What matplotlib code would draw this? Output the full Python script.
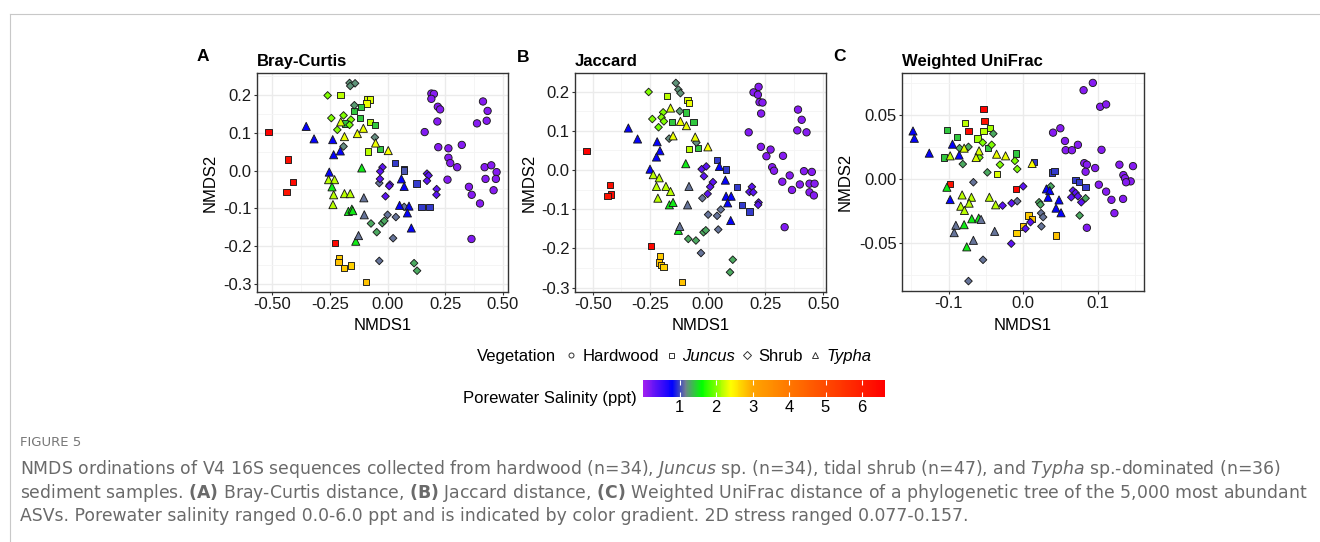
import numpy as np
import matplotlib
matplotlib.use("Agg")
import matplotlib.pyplot as plt
from matplotlib.colors import LinearSegmentedColormap, Normalize
from matplotlib.cm import ScalarMappable
from matplotlib.lines import Line2D
from matplotlib.ticker import MultipleLocator

# ---------------------------------------------------------------- data
veg_names = ["Hardwood", "Juncus", "Shrub", "Typha"]
veg_codes = ["H", "J", "S", "T"]

# Porewater salinity colour scale (ppt)
sal_breaks = [0.0, 0.8, 1.15, 1.6, 2.4, 3.0, 6.63]
sal_colours = ["#A020F0", "#0000FF", "#708090", "#00FF00", "#FFFF00", "#FFA500", "#FF0000"]
sal_ticks = [1, 2, 3, 4, 5, 6]

# --- Bray-Curtis NMDS
bc_x = [0.190, 0.201, 0.190, 0.218, 0.228, 0.216, 0.161, 0.220, 0.264, 0.322, 0.264, 0.272, 0.302, 0.260,
        0.414, 0.434, 0.430, 0.388, 0.421, 0.450, 0.473, 0.425, 0.470, 0.353, 0.365, 0.401, 0.460, 0.364,
        -0.517, -0.431, -0.411, -0.438, -0.227, -0.211, -0.213, -0.190, -0.159, -0.093, -0.205, -0.088,
        -0.076, -0.091, -0.145, -0.115, -0.119, -0.185, -0.076, -0.055, -0.033, -0.086, 0.032, 0.072,
        0.070, 0.126, 0.147, 0.182,
        -0.165, -0.141, -0.162, -0.144, -0.260, -0.244, -0.191, -0.159, -0.218, -0.165, -0.191, -0.055,
        -0.036, 0.072, 0.024, -0.036, 0.000, 0.036, -0.072, -0.047, -0.023, -0.014, 0.115, 0.128,
        -0.022, -0.032, -0.033, 0.010, 0.007, -0.009, 0.171, 0.178, 0.171, 0.213, 0.212,
        -0.353, -0.319, -0.238, -0.234, -0.205, -0.253, 0.060, 0.072, 0.052, 0.093, 0.086, 0.103,
        -0.203, -0.105, -0.131, -0.187, -0.052, 0.003, -0.256, -0.230, -0.234, -0.187, -0.162, -0.237,
        -0.112, -0.241, -0.170, -0.155, -0.151, -0.138, -0.103, -0.101, -0.126]
bc_y = [0.204, 0.203, 0.190, 0.169, 0.162, 0.130, 0.102, 0.062, 0.059, 0.068, 0.034, 0.020, 0.009, -0.024,
        0.183, 0.158, 0.132, 0.125, 0.009, 0.014, -0.004, -0.022, -0.022, -0.043, -0.064, -0.087, -0.052, -0.181,
        0.103, 0.029, -0.030, -0.057, -0.191, -0.233, -0.242, -0.257, -0.251, -0.295, 0.200, 0.188,
        0.188, 0.178, 0.158, 0.168, 0.140, 0.125, 0.128, 0.120, 0.058, 0.051, 0.020, 0.005,
        0.000, -0.034, -0.096, -0.096,
        0.232, 0.231, 0.224, 0.173, 0.199, 0.139, 0.146, 0.135, 0.108, 0.121, 0.064, 0.088,
        -0.033, -0.096, -0.179, -0.239, -0.117, -0.123, -0.140, -0.163, -0.139, -0.133, -0.245, -0.265,
        0.009, -0.002, -0.022, -0.037, -0.041, -0.068, -0.008, -0.013, -0.027, -0.049, -0.064,
        0.117, 0.084, 0.082, 0.042, 0.052, -0.004, -0.022, -0.042, -0.092, -0.094, -0.112, -0.152,
        0.129, 0.112, 0.098, 0.090, 0.073, 0.053, -0.024, -0.024, -0.064, -0.061, -0.061, -0.090,
        0.007, -0.043, -0.108, -0.102, -0.106, -0.187, -0.072, -0.117, -0.172]
bc_veg = ["H"] * 28 + ["J"] * 28 + ["S"] * 35 + ["T"] * 33
bc_sal = [0.15, 0.15, 0.15, 0.15, 0.15, 0.15, 0.17, 0.15, 0.15, 0.15, 0.15, 0.15, 0.15, 0.15,
          0.15, 0.15, 0.15, 0.15, 0.15, 0.15, 0.15, 0.15, 0.15, 0.15, 0.15, 0.15, 0.15, 0.17,
          6.6, 6.3, 6.4, 6.2, 6.5, 2.75, 2.8, 2.75, 2.7, 2.8, 2.2, 2.3,
          2.3, 2.35, 1.4, 1.4, 1.4, 1.4, 2.2, 1.4, 1.4, 2.2, 0.98, 0.98,
          1.05, 0.98, 0.98, 0.98,
          1.22, 1.22, 1.22, 1.25, 2.0, 2.0, 2.0, 2.0, 2.0, 1.95, 1.2, 1.2,
          1.12, 1.12, 1.12, 1.12, 1.12, 1.12, 1.3, 1.3, 1.3, 1.3, 1.3, 1.3,
          0.35, 0.35, 0.35, 0.35, 0.35, 0.35, 0.35, 0.35, 0.35, 0.35, 0.35,
          0.8, 0.8, 0.8, 0.8, 0.8, 0.8, 0.8, 0.8, 0.8, 0.8, 0.8, 0.8,
          2.3, 2.35, 2.35, 2.35, 2.35, 2.4, 2.2, 2.2, 2.2, 2.2, 2.2, 2.2,
          1.55, 1.55, 1.55, 1.55, 1.55, 1.55, 1.12, 1.12, 1.12]

# --- Jaccard NMDS
jac_x = [0.220, 0.198, 0.217, 0.224, 0.237, 0.231, 0.177, 0.230, 0.272, 0.254, 0.326, 0.279, 0.287, 0.391,
         0.407, 0.388, 0.428, 0.417, 0.451, 0.355, 0.323, 0.399, 0.441, 0.463, 0.365, 0.441, 0.460, 0.333,
         -0.527, -0.424, -0.420, -0.435, -0.246, -0.208, -0.211, -0.203, -0.193, -0.111, -0.177, -0.089,
         -0.083, -0.096, -0.155, -0.062, -0.043, -0.082, 0.040, 0.079, 0.126, 0.148, 0.180,
         -0.139, -0.128, -0.119, -0.122, -0.257, -0.194, -0.201, -0.191, -0.241, -0.214, -0.168, -0.050,
         -0.024, 0.001, 0.040, 0.056, 0.045, -0.030, -0.085, -0.052, -0.019, -0.009, 0.108, 0.096,
         -0.027, -0.007, -0.017, 0.022, 0.010, -0.001, 0.191, 0.180, 0.197, 0.220, 0.218,
         -0.345, -0.305, -0.220, -0.208, -0.223, -0.251, 0.050, 0.076, 0.079, 0.101, 0.086, 0.099,
         -0.162, -0.119, -0.093, -0.151, -0.055, 0.000, -0.237, -0.211, -0.223, -0.182, -0.162, -0.217,
         -0.096, -0.167, -0.151, -0.128, -0.082, -0.088, -0.122]
jac_y = [0.212, 0.198, 0.192, 0.173, 0.172, 0.144, 0.096, 0.059, 0.052, 0.035, 0.036, 0.007, -0.002, 0.154,
         0.128, 0.101, 0.096, -0.003, -0.005, -0.014, -0.030, -0.037, -0.035, -0.035, -0.051, -0.057, -0.065, -0.146,
         0.048, -0.038, -0.063, -0.067, -0.194, -0.219, -0.236, -0.243, -0.247, -0.286, 0.188, 0.178,
         0.171, 0.147, 0.122, 0.122, 0.056, 0.054, 0.025, 0.001, -0.044, -0.090, -0.106,
         0.222, 0.205, 0.196, 0.150, 0.199, 0.147, 0.134, 0.124, 0.130, 0.109, 0.080, 0.070,
         -0.072, -0.114, -0.117, -0.101, -0.152, -0.212, -0.176, -0.180, -0.159, -0.154, -0.229, -0.261,
         0.002, 0.009, -0.016, -0.031, -0.043, -0.061, -0.043, -0.056, -0.057, -0.083, -0.089,
         0.107, 0.079, 0.072, 0.049, 0.033, 0.002, 0.009, -0.026, -0.067, -0.067, -0.084, -0.129,
         0.158, 0.124, 0.113, 0.087, 0.084, 0.059, -0.012, -0.020, -0.042, -0.042, -0.055, -0.072,
         0.016, -0.089, -0.083, -0.154, -0.042, -0.089, -0.144]
jac_veg = ["H"] * 28 + ["J"] * 23 + ["S"] * 35 + ["T"] * 31
jac_sal = [0.15, 0.15, 0.15, 0.15, 0.15, 0.15, 0.17, 0.15, 0.15, 0.15, 0.15, 0.15, 0.15, 0.15,
           0.15, 0.15, 0.15, 0.15, 0.15, 0.15, 0.15, 0.15, 0.15, 0.15, 0.15, 0.15, 0.15, 0.17,
           6.6, 6.3, 6.4, 6.2, 6.5, 2.75, 2.8, 2.75, 2.7, 2.8, 2.2, 2.3,
           2.35, 1.4, 1.4, 1.4, 1.4, 2.2, 0.98, 0.98, 0.98, 0.98, 0.98,
           1.22, 1.22, 1.22, 1.25, 2.0, 2.0, 2.0, 2.0, 2.0, 1.95, 1.2, 1.2,
           1.12, 1.12, 1.12, 1.12, 1.12, 1.12, 1.3, 1.3, 1.3, 1.3, 1.3, 1.3,
           0.35, 0.35, 0.35, 0.35, 0.35, 0.35, 0.35, 0.35, 0.35, 0.35, 0.35,
           0.8, 0.8, 0.8, 0.8, 0.8, 0.8, 0.8, 0.8, 0.8, 0.8, 0.8, 0.8,
           2.3, 2.35, 2.35, 2.35, 2.35, 2.4, 2.2, 2.2, 2.2, 2.2, 2.2, 2.2,
           1.55, 1.55, 1.55, 1.55, 1.12, 1.12, 1.12]

# --- Weighted UniFrac NMDS
wu_x = [0.0933, 0.0809, 0.1031, 0.1111, 0.0400, 0.0498, 0.0560, 0.0569, 0.0653, 0.0733, 0.1049, 0.0818,
        0.0853, 0.0836, 0.0964, 0.1289, 0.1471, 0.1342, 0.1364, 0.1440, 0.1378, 0.1013, 0.1111, 0.1182,
        0.1338, 0.1222, 0.0853,
        0.0147, 0.0387, 0.0418, 0.0702, 0.0747, 0.0836, -0.0533, -0.0520, -0.0733, -0.0978, -0.0098,
        -0.0778, -0.0533, -0.0444, -0.0613, -0.0351, -0.1022, -0.0889, -0.1058, -0.0471, -0.0098,
        0.0071, 0.0120, 0.0000, -0.0089, 0.0440,
        -0.0400, -0.0733, -0.0853, -0.0809, -0.0480, 0.0213, 0.0231, 0.0369, 0.0756, 0.0836,
        -0.0542, -0.0422, -0.0587, -0.0111, -0.0080, -0.0311,
        -0.0667, -0.0080, 0.0240, 0.0267, 0.0244, -0.0538, -0.0733,
        0.0000, -0.0276, -0.0156, 0.0098, 0.0031, -0.0160, 0.0667, 0.0702, 0.0644, 0.0733, 0.0778,
        -0.1476, -0.1458, -0.1258, -0.0947, -0.0858, -0.0978, 0.0311, 0.0356, 0.0333, 0.0480, 0.0440, 0.0507,
        -0.0978, -0.0791, -0.0591, -0.0631, -0.0356, -0.0236, 0.0120, -0.0818, -0.0693, -0.0724, -0.0836,
        -0.0787, -0.0453, -0.0369,
        -0.1022, -0.0791, -0.0689, -0.0596, -0.0756,
        -0.0902, -0.0924, -0.0382, -0.0667, -0.0564]
wu_y = [0.0752, 0.0695, 0.0566, 0.0584, 0.0364, 0.0398, 0.0299, 0.0227, 0.0227, 0.0269, 0.0230, 0.0126,
        0.0114, 0.0059, 0.0088, 0.0114, 0.0103, 0.0033, 0.0008, -0.0016, -0.0023, -0.0042, -0.0096, -0.0160,
        -0.0153, -0.0264, -0.0378,
        0.0137, 0.0054, 0.0067, -0.0003, -0.0023, -0.0062, 0.0550, 0.0454, 0.0379, -0.0036, -0.0075,
        0.0437, 0.0379, 0.0400, 0.0318, 0.0041, 0.0385, 0.0330, 0.0170, 0.0245, 0.0201,
        -0.0282, -0.0308, -0.0367, -0.0419, -0.0437,
        0.0356, 0.0253, 0.0243, 0.0119, 0.0054, -0.0179, -0.0197, -0.0055, -0.0282, -0.0148,
        0.0286, 0.0269, 0.0170, 0.0144, 0.0080, 0.0114,
        -0.0023, -0.0171, -0.0264, -0.0295, -0.0367, -0.0628, -0.0794,
        -0.0055, -0.0205, -0.0186, -0.0334, -0.0385, -0.0502, -0.0088, -0.0106, -0.0140, -0.0132, -0.0179,
        0.0377, 0.0320, 0.0204, 0.0274, 0.0189, -0.0158, -0.0075, -0.0088, -0.0140, -0.0161, -0.0225, -0.0261,
        0.0183, 0.0243, 0.0222, 0.0170, 0.0196, 0.0183, 0.0124, -0.0122, -0.0140, -0.0186, -0.0210,
        -0.0243, -0.0140, -0.0199,
        -0.0062, -0.0354, -0.0308, -0.0303, -0.0527,
        -0.0359, -0.0416, -0.0406, -0.0476, -0.0313]
wu_veg = ["H"] * 27 + ["J"] * 26 + ["S"] * 34 + ["T"] * 36
wu_sal = [0.15, 0.15, 0.15, 0.15, 0.15, 0.15, 0.15, 0.15, 0.15, 0.15, 0.15, 0.15,
          0.15, 0.15, 0.15, 0.15, 0.15, 0.15, 0.15, 0.15, 0.15, 0.15, 0.15, 0.15,
          0.15, 0.15, 0.17,
          0.98, 0.98, 0.98, 0.98, 0.98, 0.98, 6.6, 6.3, 6.4, 6.2, 6.5,
          2.2, 2.2, 2.1, 2.1, 2.3, 1.4, 1.4, 1.4, 1.4, 1.4,
          2.75, 2.8, 2.75, 2.7, 2.8,
          1.3, 1.3, 1.3, 1.3, 1.3, 1.3, 1.3, 1.3, 1.3, 1.3,
          2.0, 2.0, 2.0, 2.0, 2.0, 2.0,
          1.12, 1.12, 1.12, 1.12, 1.12, 1.12, 1.12,
          0.35, 0.35, 0.35, 0.35, 0.35, 0.35, 0.35, 0.35, 0.35, 0.35, 0.35,
          0.8, 0.8, 0.8, 0.8, 0.8, 0.8, 0.8, 0.8, 0.8, 0.8, 0.8, 0.8,
          2.2, 2.3, 2.3, 2.3, 2.35, 2.35, 2.4, 2.2, 2.2, 2.2, 2.2,
          2.2, 2.2, 2.2,
          1.55, 1.55, 1.55, 1.55, 1.55,
          1.12, 1.12, 1.12, 1.12, 1.12]

panel_letters = ["A", "B", "C"]
panel_titles = ["Bray-Curtis", "Jaccard", "Weighted UniFrac"]
bc_xticks = [-0.50, -0.25, 0.00, 0.25, 0.50]
bc_yticks = [-0.3, -0.2, -0.1, 0.0, 0.1, 0.2]
jac_xticks = [-0.50, -0.25, 0.00, 0.25, 0.50]
jac_yticks = [-0.3, -0.2, -0.1, 0.0, 0.1, 0.2]
wu_xticks = [-0.1, 0.0, 0.1]
wu_yticks = [-0.05, 0.00, 0.05]

caption_head = "FIGURE 5"
caption_lines = [
    r"NMDS ordinations of V4 16S sequences collected from hardwood (n=34), $\mathit{Juncus}$ sp. (n=34), "
    r"tidal shrub (n=47), and $\mathit{Typha}$ sp.-dominated (n=36)",
    r"sediment samples. $\mathbf{(A)}$ Bray-Curtis distance, $\mathbf{(B)}$ Jaccard distance, "
    r"$\mathbf{(C)}$ Weighted UniFrac distance of a phylogenetic tree of the 5,000 most abundant",
    r"ASVs. Porewater salinity ranged 0.0-6.0 ppt and is indicated by color gradient. 2D stress ranged 0.077-0.157.",
]

# ---------------------------------------------------------------- style
W, H = 1320, 542
plt.rcParams["font.family"] = ["Liberation Sans", "DejaVu Sans"]
plt.rcParams["mathtext.fontset"] = "custom"
plt.rcParams["mathtext.rm"] = "DejaVu Sans"
plt.rcParams["mathtext.it"] = "DejaVu Sans:italic"
plt.rcParams["mathtext.bf"] = "DejaVu Sans:bold"

fig = plt.figure(figsize=(W / 100, H / 100), dpi=100)
fig.patch.set_facecolor("white")


def fx(px):
    return px / W


def fy(py):
    return 1 - py / H


cmap = LinearSegmentedColormap.from_list(
    "salinity", list(zip(np.array(sal_breaks) / sal_breaks[-1], sal_colours)))
norm = Normalize(vmin=sal_breaks[0], vmax=sal_breaks[-1])

marker_for = {"H": "o", "J": "s", "S": "D", "T": "^"}
size_for = {"H": 28, "J": 21, "S": 15, "T": 34}

TXT = "#1a1a1a"


def draw_panel(box, xs, ys, veg, sal, xticks, yticks, xdec, ydec):
    left, top, right, bottom = box
    ax = fig.add_axes([fx(left), fy(bottom), (right - left) / W, (bottom - top) / H])
    xs = np.asarray(xs)
    ys = np.asarray(ys)
    veg = np.asarray(veg)
    sal = np.asarray(sal)
    for code in veg_codes:
        m = veg == code
        ax.scatter(xs[m], ys[m], c=sal[m], cmap=cmap, norm=norm, marker=marker_for[code],
                   s=size_for[code], edgecolors="#1a1a1a", linewidths=0.65, zorder=3)
    xr = xs.max() - xs.min()
    yr = ys.max() - ys.min()
    ax.set_xlim(xs.min() - 0.05 * xr, xs.max() + 0.05 * xr)
    ax.set_ylim(ys.min() - 0.05 * yr, ys.max() + 0.05 * yr)
    ax.set_xticks(xticks)
    ax.set_xticklabels([f"{v:.{xdec}f}" for v in xticks])
    ax.set_yticks(yticks)
    ax.set_yticklabels([f"{v:.{ydec}f}" for v in yticks])
    ax.xaxis.set_minor_locator(MultipleLocator((xticks[1] - xticks[0]) / 2))
    ax.yaxis.set_minor_locator(MultipleLocator((yticks[1] - yticks[0]) / 2))
    ax.set_axisbelow(True)
    ax.grid(True, which="major", color="#EBEBEB", lw=1.0)
    ax.grid(True, which="minor", color="#F4F4F4", lw=0.6)
    ax.tick_params(which="major", length=2.3, width=0.8, color="#333333", labelsize=12,
                   labelcolor=TXT, pad=1.5)
    ax.tick_params(which="minor", length=0)
    for sp in ax.spines.values():
        sp.set_color("#333333")
        sp.set_linewidth(1.0)
    return ax


boxes = [(257, 73, 508, 292), (575, 73, 826, 292), (902, 73, 1144, 291)]
panel_data = [(bc_x, bc_y, bc_veg, bc_sal, bc_xticks, bc_yticks, 2, 1),
              (jac_x, jac_y, jac_veg, jac_sal, jac_xticks, jac_yticks, 2, 1),
              (wu_x, wu_y, wu_veg, wu_sal, wu_xticks, wu_yticks, 1, 2)]
letter_pos = [(197, 61), (517, 62), (833, 61)]
ylabel_x = [210, 529, 845.5]

for box, data, letter, lpos, title, ylx in zip(boxes, panel_data, panel_letters, letter_pos,
                                                panel_titles, ylabel_x):
    draw_panel(box, *data)
    left, top, right, bottom = box
    fig.text(fx(lpos[0]), fy(lpos[1]), letter, fontsize=12.5, fontweight="bold", color="black",
             ha="left", va="baseline")
    fig.text(fx(left), fy(66), title, fontsize=12, fontweight="bold", color="black",
             ha="left", va="baseline")
    fig.text(fx(ylx), fy((top + bottom) / 2), "NMDS2", fontsize=12, rotation=90,
             ha="center", va="center", color="black")
    fig.text(fx((left + right) / 2), fy(330), "NMDS1", fontsize=12, ha="center",
             va="baseline", color="black")

# ---------------------------------------------------------------- vegetation key
fig.text(fx(477), fy(361.5), "Vegetation", fontsize=12, ha="left", va="baseline", color="black")
handles = [Line2D([], [], ls="", marker=marker_for[c], mfc="none", mec="#333333", mew=0.7,
                  ms=3.6 if c != "T" else 4.2) for c in veg_codes]
leg = fig.legend(handles, veg_names, ncol=4, loc="center left",
                 bbox_to_anchor=(fx(564.5), fy(356.5)), frameon=False, fontsize=12,
                 handlelength=0.8, handletextpad=0.27, columnspacing=0.33,
                 borderpad=0, borderaxespad=0)
for t, name in zip(leg.get_texts(), veg_names):
    t.set_color("black")
    if name in ("Juncus", "Typha"):
        t.set_fontstyle("italic")

# ---------------------------------------------------------------- colour bar
cax = fig.add_axes([fx(643), fy(396.5), (885 - 643) / W, 16.5 / H])
cb = fig.colorbar(ScalarMappable(norm=norm, cmap=cmap), cax=cax, orientation="horizontal")
cb.set_ticks(sal_ticks)
cb.set_ticklabels([str(v) for v in sal_ticks])
cb.outline.set_visible(False)
cax.tick_params(axis="x", direction="in", length=3.5, width=0.8, color="white",
                top=True, bottom=True, labelsize=12, labelcolor="black", pad=2.5)
fig.text(fx(637), fy(403.5), "Porewater Salinity (ppt)", fontsize=12, ha="right",
         va="baseline", color="black")

# ---------------------------------------------------------------- page frame
fig.add_artist(Line2D([fx(9.5), fx(W)], [fy(13.5), fy(13.5)], transform=fig.transFigure,
                      color="#C8C8C8", lw=0.8))
fig.add_artist(Line2D([fx(9.5), fx(9.5)], [fy(13.5), fy(H)], transform=fig.transFigure,
                      color="#C8C8C8", lw=0.8))

# ---------------------------------------------------------------- caption
fig.text(fx(20), fy(446.5), caption_head, fontsize=9.5, family="DejaVu Sans",
         color="#777777", ha="left", va="baseline")
cap_baselines = [473.5, 497.5, 521]
cap_texts = []
for line, yb in zip(caption_lines, cap_baselines):
    cap_texts.append(fig.text(fx(20), fy(yb), line, fontsize=11.5, family="DejaVu Sans",
                              color="#6A6A6A", ha="left", va="baseline"))

fig.canvas.draw()
renderer = fig.canvas.get_renderer()
w0 = cap_texts[0].get_window_extent(renderer).width
scale = (1283 - 20) / w0
for t in cap_texts:
    t.set_fontsize(t.get_fontsize() * scale)

fig.savefig("out.png", dpi=100, facecolor="white")
